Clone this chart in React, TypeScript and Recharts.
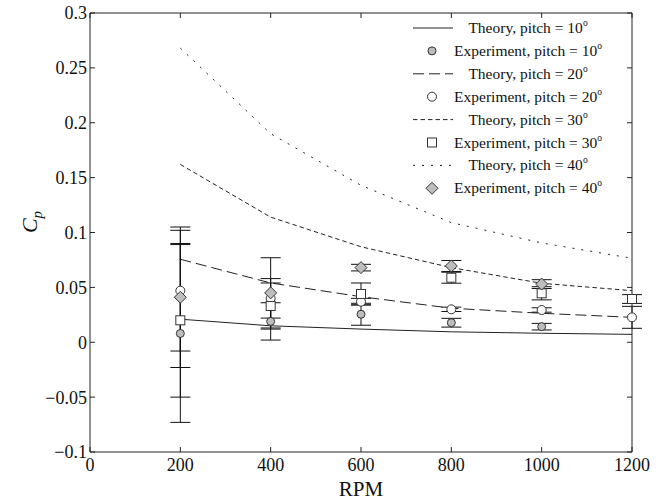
import { ComposedChart, Line, Scatter, ErrorBar, XAxis, YAxis, Legend } from "recharts";

const serif = "Liberation Serif";
const ink = "#111";

// theory curves
const rpmTheory = [200, 400, 600, 800, 1000, 1200];
const theory10 = [0.021, 0.015, 0.012, 0.0095, 0.0082, 0.0072];
const theory20 = [0.0756, 0.054, 0.0415, 0.031, 0.0264, 0.0227];
const theory30 = [0.162, 0.114, 0.087, 0.068, 0.0537, 0.047];
const theory40 = [0.268, 0.19, 0.143, 0.109, 0.0905, 0.0765];

// experiments (value, +/- error)
const rpmExp = [200, 400, 600, 800, 1000, 1200];
const exp10 = [0.008, 0.019, 0.0255, 0.0178, 0.0142];
const exp10Err = [0.081, 0.017, 0.01, 0.004, 0.003];
const exp20 = [0.047, 0.04, 0.037, 0.03, 0.0294, 0.0227];
const exp20Err = [0.055, 0.018, 0.003, 0.002, 0.002, 0.01];
const exp30 = [0.02, 0.033, 0.044, 0.0588, 0.0446, 0.0394];
const exp30Err = [0.07, 0.021, 0.01, 0.005, 0.006, 0.004];
const exp40 = [0.041, 0.045, 0.068, 0.0695, 0.053];
const exp40Err = [0.064, 0.032, 0.003, 0.005, 0.004];

const xTicks = [0, 200, 400, 600, 800, 1000, 1200];
const yTicks = [-0.1, -0.05, 0, 0.05, 0.1, 0.15, 0.2, 0.25, 0.3];

const legendLabels = [
    "Theory, pitch = 10",
    "Experiment, pitch = 10",
    "Theory, pitch = 20",
    "Experiment, pitch = 20",
    "Theory, pitch = 30",
    "Experiment, pitch = 30",
    "Theory, pitch = 40",
    "Experiment, pitch = 40",
];

const theoryRows = rpmTheory.map((rpm, i) => ({
    rpm,
    t10: theory10[i],
    t20: theory20[i],
    t30: theory30[i],
    t40: theory40[i],
}));

const expRows = (vals: number[], errs: number[]) =>
    vals.map((cp, i) => ({ rpm: rpmExp[i], cp, err: errs[i] }));

const dash20 = "11 5";
const dash30 = "4.5 3";
const dash40 = "2 7";

function Marker({ kind, cx, cy }: { kind: string; cx: number; cy: number }) {
    if (kind === "gray") return <circle cx={cx} cy={cy} r={4} fill="#bdbdbd" stroke="#333" strokeWidth={1} />;
    if (kind === "open") return <circle cx={cx} cy={cy} r={4.5} fill="#fff" stroke="#333" strokeWidth={1} />;
    if (kind === "square") return <rect x={cx - 4.5} y={cy - 4.5} width={9} height={9} fill="#fff" stroke="#333" strokeWidth={1} />;
    return (
        <polygon
            points={`${cx},${cy - 6} ${cx + 6},${cy} ${cx},${cy + 6} ${cx - 6},${cy}`}
            fill="#bdbdbd"
            stroke="#333"
            strokeWidth={1}
        />
    );
}

const shapeOf = (kind: string) => (p: any) => <Marker kind={kind} cx={p.cx} cy={p.cy} />;

const legendKinds = ["solid", "gray", "dash20", "open", "dash30", "square", "dash40", "diamond"];
const dashFor: Record<string, string | undefined> = { solid: undefined, dash20, dash30, dash40 };

function renderLegend() {
    return (
        <svg width={668} height={200} style={{ display: "block" }}>
            {legendKinds.map((kind, i) => {
                const y = 28 + i * 22.9;
                const isLine = kind === "solid" || kind.startsWith("dash");
                return (
                    <g key={kind}>
                        {isLine ? (
                            <line x1={413} x2={453} y1={y} y2={y} stroke="#222" strokeWidth={1} strokeDasharray={dashFor[kind]} />
                        ) : (
                            <Marker kind={kind} cx={432} cy={y} />
                        )}
                        <text x={528} y={y + 5} textAnchor="middle" style={{ fontFamily: serif }} fontSize={15.5} fill={ink}>
                            {legendLabels[i]}
                            <tspan dy={-7} fontSize={9.5}>o</tspan>
                        </text>
                    </g>
                );
            })}
        </svg>
    );
}

const fmt = (v: number) => String(v).replace("-", "\u2212");
const noLabel = () => <g />;

export default function App() {
    const tickStyle = { fontSize: 18, fill: ink, style: { fontFamily: serif } };
    return (
        <div style={{ position: "absolute", left: 0, top: 0, width: 668, height: 503, background: "#fff", fontFamily: serif }}>
            <ComposedChart width={668} height={503} data={theoryRows} margin={{ top: 12, right: 35, left: 0, bottom: 0 }}>
                <XAxis
                    xAxisId="b"
                    dataKey="rpm"
                    type="number"
                    domain={[0, 1200]}
                    ticks={xTicks}
                    interval={0}
                    height={51}
                    tickSize={-5}
                    tickMargin={11}
                    tick={tickStyle}
                    stroke="#222"
                    label={{
                        content: () => (
                            <text x={361} y={496} textAnchor="middle" style={{ fontFamily: serif }} fontSize={21} fill={ink}>
                                RPM
                            </text>
                        ),
                    }}
                />
                <XAxis
                    xAxisId="t"
                    orientation="top"
                    dataKey="rpm"
                    type="number"
                    domain={[0, 1200]}
                    ticks={xTicks}
                    interval={0}
                    height={1}
                    tickSize={-5}
                    tick={noLabel}
                    stroke="#222"
                />
                <YAxis
                    yAxisId="l"
                    type="number"
                    domain={[-0.1, 0.3]}
                    ticks={yTicks}
                    interval={0}
                    width={90}
                    tickSize={-5}
                    tickMargin={8}
                    tick={tickStyle}
                    tickFormatter={fmt}
                    stroke="#222"
                    label={{
                        content: () => (
                            <g transform="translate(30,222) rotate(-90)">
                                <text x={0} y={7} textAnchor="middle" style={{ fontFamily: serif }} fontSize={22} fill={ink} fontStyle="italic">
                                    C<tspan fontSize={15} dy={5}>p</tspan>
                                </text>
                            </g>
                        ),
                    }}
                />
                <YAxis
                    yAxisId="r"
                    orientation="right"
                    type="number"
                    domain={[-0.1, 0.3]}
                    ticks={yTicks}
                    interval={0}
                    width={1}
                    tickSize={-5}
                    tick={noLabel}
                    stroke="#222"
                />
                <Legend verticalAlign="middle" layout="horizontal" content={renderLegend} wrapperStyle={{ position: "absolute", left: 0, top: 0, width: 668, height: 200 }} />

                {/* invisible series so the top/right frame axes get drawn */}
                <Line xAxisId="t" yAxisId="r" dataKey="t10" stroke="none" dot={false} activeDot={false} legendType="none" isAnimationActive={false} />

                <Line xAxisId="b" yAxisId="l" dataKey="t10" stroke="#222" strokeWidth={1} dot={false} isAnimationActive={false} />
                <Line xAxisId="b" yAxisId="l" dataKey="t20" stroke="#222" strokeWidth={1} strokeDasharray={dash20} dot={false} isAnimationActive={false} />
                <Line xAxisId="b" yAxisId="l" dataKey="t30" stroke="#222" strokeWidth={1} strokeDasharray={dash30} dot={false} isAnimationActive={false} />
                <Line xAxisId="b" yAxisId="l" dataKey="t40" stroke="#222" strokeWidth={1} strokeDasharray={dash40} dot={false} isAnimationActive={false} />

                <Scatter xAxisId="b" yAxisId="l" data={expRows(exp10, exp10Err)} dataKey="cp" shape={shapeOf("gray")} isAnimationActive={false}>
                    <ErrorBar dataKey="err" direction="y" width={10} stroke="#111" strokeWidth={1} isAnimationActive={false} />
                </Scatter>
                <Scatter xAxisId="b" yAxisId="l" data={expRows(exp20, exp20Err)} dataKey="cp" shape={shapeOf("open")} isAnimationActive={false}>
                    <ErrorBar dataKey="err" direction="y" width={10} stroke="#111" strokeWidth={1} isAnimationActive={false} />
                </Scatter>
                <Scatter xAxisId="b" yAxisId="l" data={expRows(exp30, exp30Err)} dataKey="cp" shape={shapeOf("square")} isAnimationActive={false}>
                    <ErrorBar dataKey="err" direction="y" width={10} stroke="#111" strokeWidth={1} isAnimationActive={false} />
                </Scatter>
                <Scatter xAxisId="b" yAxisId="l" data={expRows(exp40, exp40Err)} dataKey="cp" shape={shapeOf("diamond")} isAnimationActive={false}>
                    <ErrorBar dataKey="err" direction="y" width={10} stroke="#111" strokeWidth={1} isAnimationActive={false} />
                </Scatter>
            </ComposedChart>
        </div>
    );
}
